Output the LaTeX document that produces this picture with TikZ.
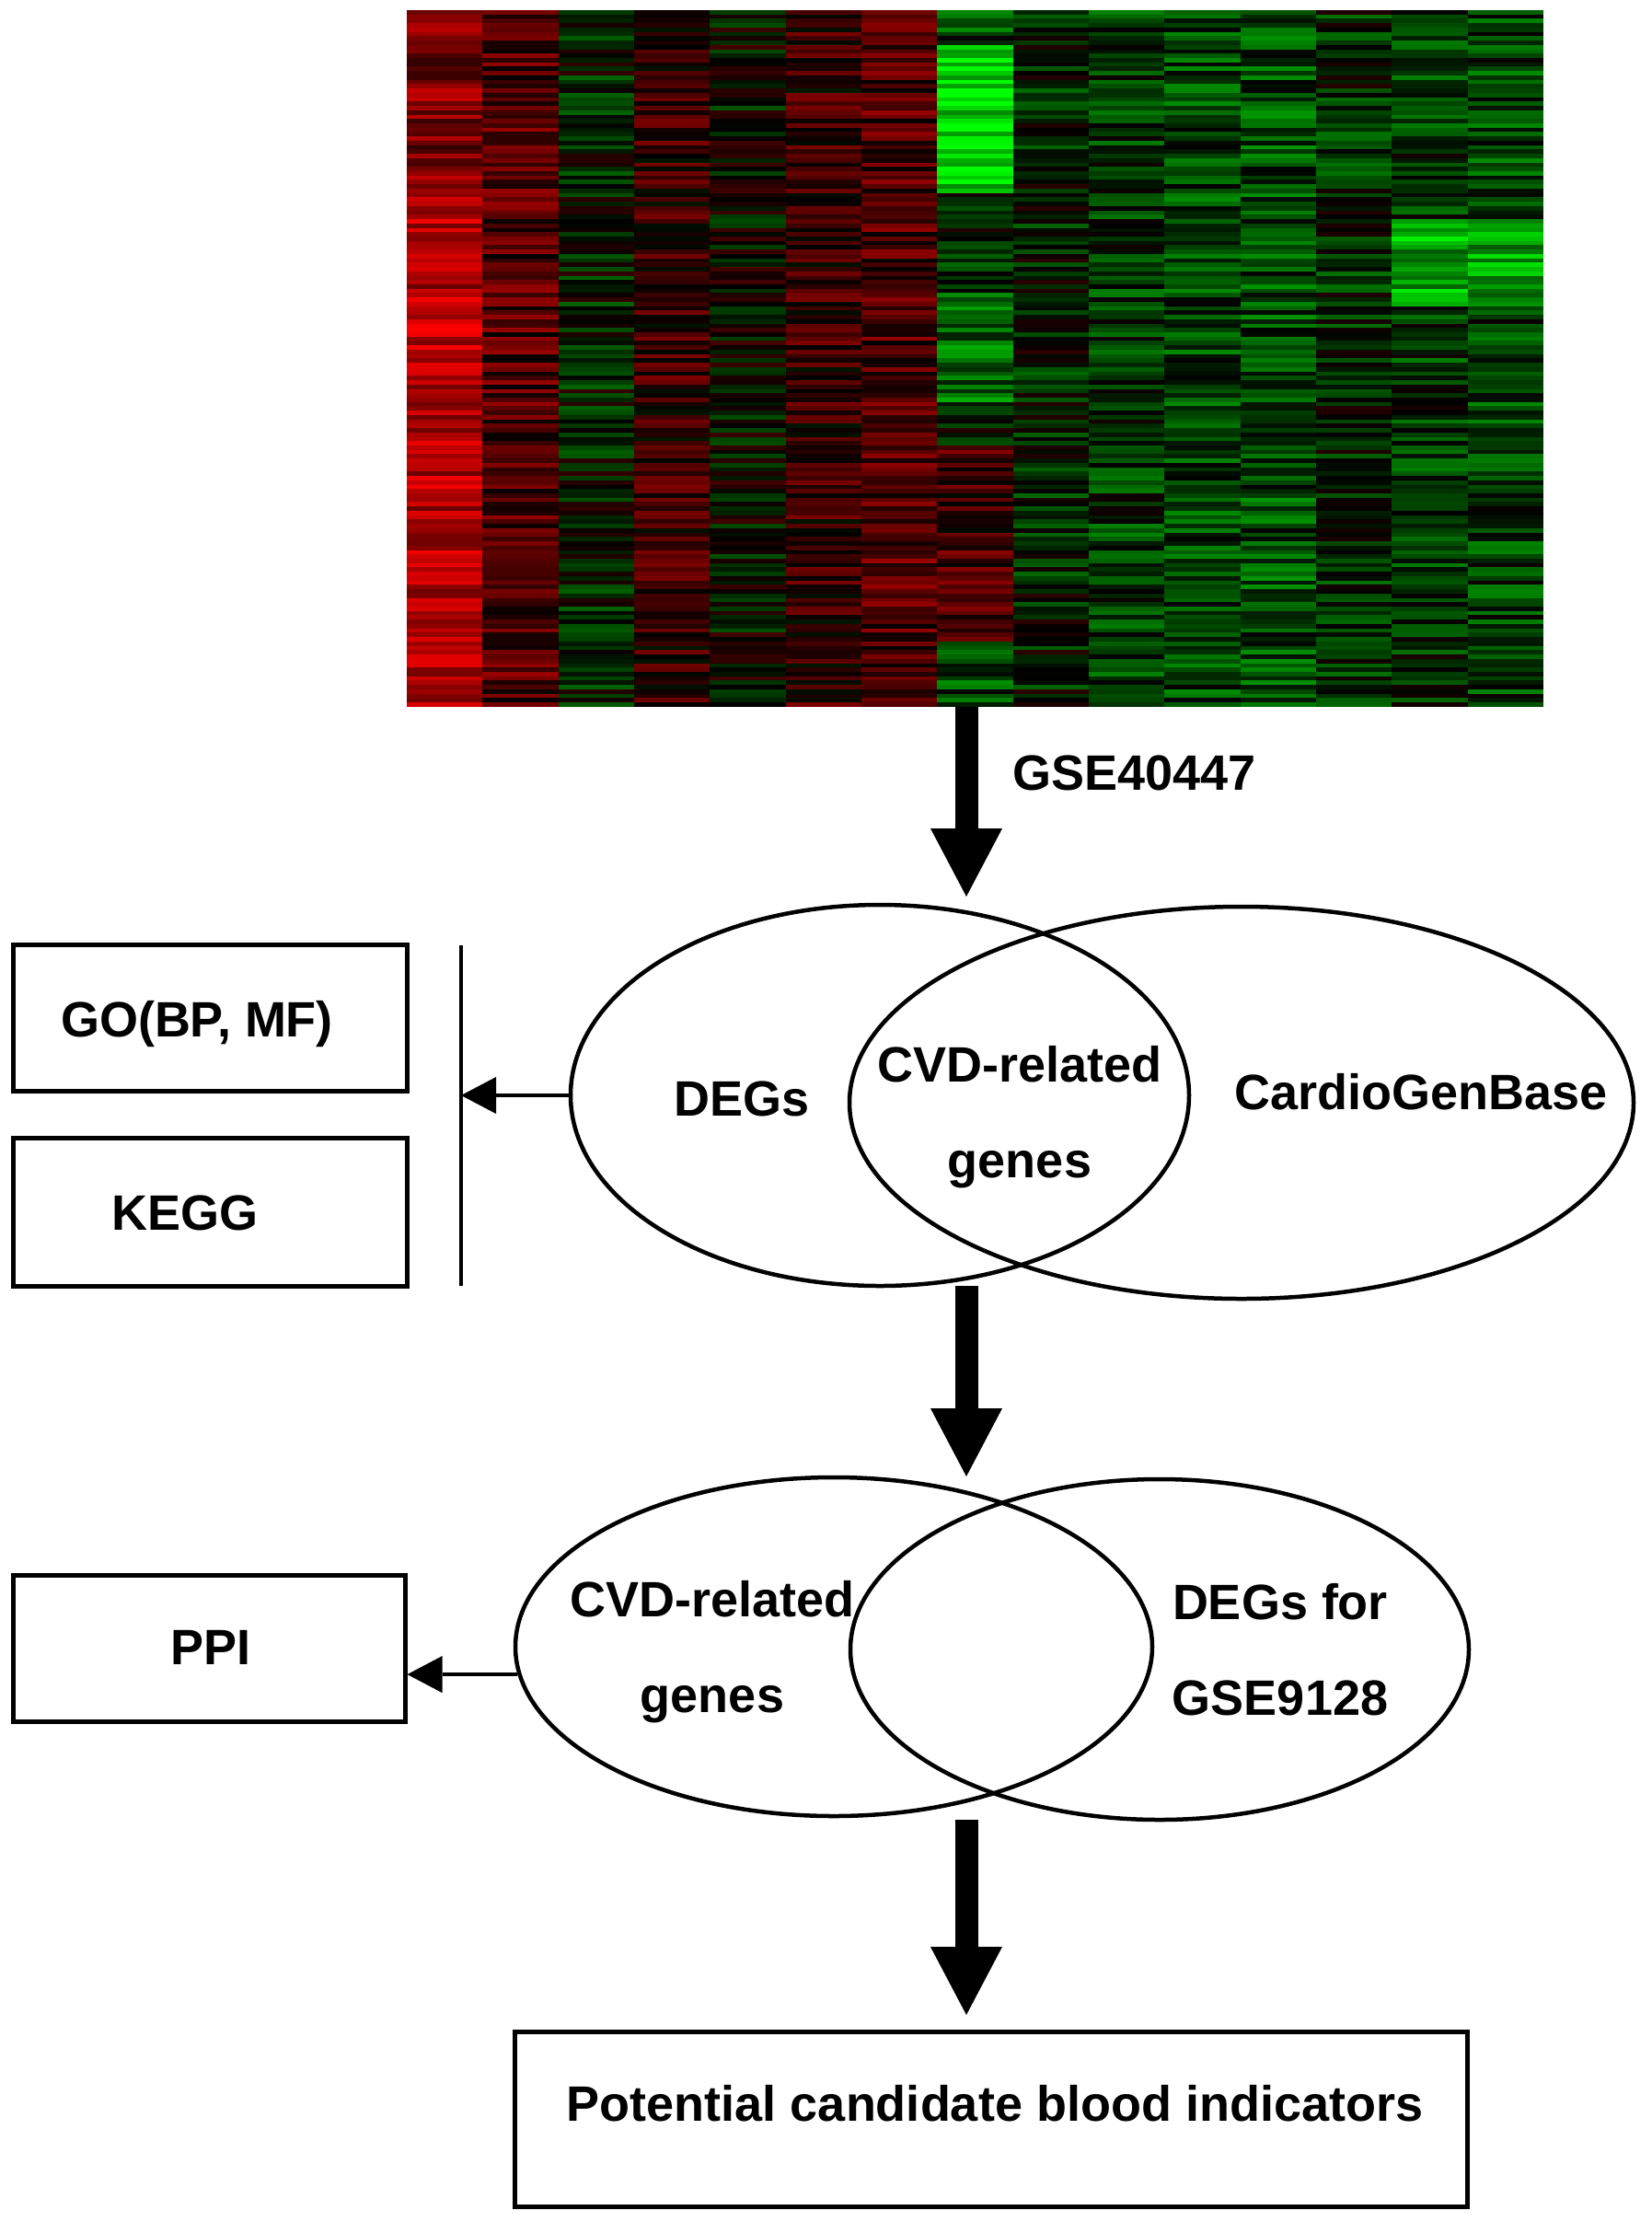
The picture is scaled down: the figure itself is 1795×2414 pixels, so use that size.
\documentclass[tikz,border=0pt]{standalone}
\usepackage{fontspec}
\setmainfont{Liberation Sans}
\usetikzlibrary{shapes.geometric,arrows.meta}
\tikzset{
  txt/.style={font=\bfseries\fontsize{54}{104}\selectfont, inner sep=0pt, align=center},
  boxnode/.style={draw, line width=5pt, inner sep=0pt},
  venn/.style={draw, ellipse, line width=4.5pt, inner sep=0pt},
  bigarrow/.style={line width=25pt, -{Triangle[length=74pt,width=78pt,line width=0pt]}},
  thinarrow/.style={line width=4.5pt, -{Triangle[length=38pt,width=40pt,line width=0pt]}},
}
\begin{document}
\begin{tikzpicture}[x=1pt,y=-1pt]
\fill[white] (0,0) rectangle (1795,2414);
\useasboundingbox (0,0) rectangle (1795,2414);
% heatmap
\pgfmathsetseed{40447}
\foreach \c/\b in {0/0.5,1/0.3,2/-0.1,3/0.2,4/-0.03,5/0.2,6/0.3,7/-0.2,8/-0.12,9/-0.22,10/-0.28,11/-0.3,12/-0.15,13/-0.2,14/-0.25}{
  \foreach \r in {0,...,159}{
    \def\bb{\b}
    \ifnum\c=7
      \ifnum\r<8 \def\bb{-0.25}\else\ifnum\r<42 \def\bb{-0.85}\else\ifnum\r<65 \def\bb{-0.15}\else\ifnum\r<90 \def\bb{-0.4}\else\ifnum\r<100 \def\bb{-0.1}\else\ifnum\r<145 \def\bb{0.25}\else \def\bb{-0.3}\fi\fi\fi\fi\fi\fi
    \fi
    \ifnum\c>12 \ifnum\r>47 \ifnum\r<68 \def\bb{-0.65}\fi\fi\fi
    \ifnum\c=0 \ifnum\r>40 \def\bb{0.72}\fi\fi
    \pgfmathsetmacro\v{\bb+0.3*rand}
    \pgfmathsetmacro\p{int(100*min(abs(\v),1))}
    \ifdim\v pt>0pt \def\hc{red}\else\def\hc{green}\fi
    \fill[\hc!\p!black] (442+82.33*\c, 11+4.73*\r) rectangle ++(82.6,5);
  }
}
\node[inner sep=0pt, minimum width=1235pt, minimum height=757pt, anchor=north west] (hm) at (442,11) {};

% first arrow
\coordinate (a1e) at (1050,974);
\draw[bigarrow] (hm.south -| a1e) -- (a1e);
\node[txt, anchor=west] (gse) at (1100,840) {GSE40447};

% Venn 1
\node[venn, minimum width=672pt, minimum height=414pt] (v1a) at (956,1190) {};
\node[venn, minimum width=852pt, minimum height=426pt] (v1b) at (1349,1198) {};
\node[txt] (degs) at (806,1194) {DEGs};
\node[txt] (cvd1) at (1108,1214) {CVD-related\\genes};
\node[txt] (cgb) at (1544,1186) {CardioGenBase};

% left boxes
\node[boxnode, minimum width=428pt, minimum height=159pt] (go) at (228,1106) {};
\node[txt] (gotxt) at (214,1113) {GO(BP, MF)};
\node[boxnode, minimum width=428pt, minimum height=161pt] (kegg) at (228,1317) {};
\node[txt] (keggtxt) at (201,1318) {KEGG};
\coordinate (vtop) at (501,1027);
\coordinate (vbot) at (501,1397);
\draw[line width=4pt] (vtop) -- (vbot);
\draw[thinarrow] (v1a.west) -- (vtop |- v1a.west);

% second arrow
\coordinate (a2s) at (1050,1397);
\coordinate (a2e) at (1050,1604);
\draw[bigarrow] (a2s) -- (a2e);

% Venn 2
\node[venn, minimum width=692pt, minimum height=368pt] (v2a) at (906,1789) {};
\node[venn, minimum width=672pt, minimum height=370pt] (v2b) at (1260,1792) {};
\node[txt] (cvd2) at (774,1795) {CVD-related\\genes};
\node[txt] (deg2) at (1391,1792) {DEGs for\\GSE9128};

% PPI
\node[boxnode, minimum width=426pt, minimum height=159pt] (ppi) at (227,1791) {};
\node[txt] (ppitxt) at (229,1790) {PPI};
\draw[thinarrow] (v2a.185) -- (ppi.east |- v2a.185);

% third arrow
\coordinate (a3s) at (1050,1977);
\coordinate (a3e) at (1050,2189);
\draw[bigarrow] (a3s) -- (a3e);

% final box
\node[boxnode, minimum width=1035pt, minimum height=190pt] (fin) at (1077,2302) {};
\node[txt] (fintxt) at (1081,2285) {Potential candidate blood indicators};
\end{tikzpicture}
\end{document}
